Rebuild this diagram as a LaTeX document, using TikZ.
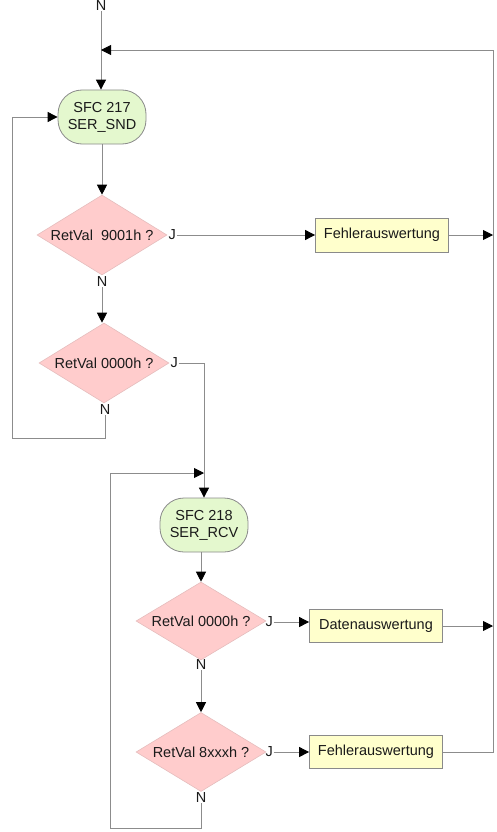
\documentclass[tikz,border=0pt]{standalone}
\usepackage{fontspec}
\setmainfont{Liberation Sans}
\usetikzlibrary{arrows.meta,shapes.geometric}
\definecolor{sfcgreen}{HTML}{E4F8CE}
\definecolor{diapink}{HTML}{FFCCCC}
\definecolor{boxyellow}{HTML}{FFFFCC}
\definecolor{linegray}{HTML}{8C8C8C}
\definecolor{bordergray}{HTML}{8A8A8A}
\definecolor{txt}{HTML}{1A1A1A}
\tikzset{
  every node/.style={font=\fontsize{14.5}{17}\selectfont, text=txt},
  sfc/.style={draw=bordergray, line width=0.8pt, fill=sfcgreen, rounded corners=24pt,
    minimum width=88pt, minimum height=54pt, align=center, inner sep=0pt},
  dia/.style={diamond, draw=diapink!80!gray, line width=0.6pt, fill=diapink, aspect=1.625,
    minimum width=130pt, minimum height=80pt, inner sep=0pt},
  ybox/.style={draw=bordergray, line width=0.8pt, fill=boxyellow,
    minimum width=133pt, minimum height=34pt, inner sep=0pt},
  lab/.style={inner sep=0.5pt},
  conn/.style={draw=linegray, line width=0.9pt},
  arr/.style={conn, -{Triangle[length=10pt,width=10pt,black]}},
}
\begin{document}
\begin{tikzpicture}[x=1pt,y=-1pt]
\useasboundingbox (0,0) rectangle (496,832);

% nodes
\node[lab, anchor=south] (ntop) at (101,11.5) {N};
\coordinate (jtop) at (101,50);
\coordinate (rtop) at (493,50);
\node[sfc] (s1) at (102,117) {SFC 217\\SER\_SND};
\node[dia, label={[text=txt]center:RetVal\ \ 9001h ?}] (d1) at (102,235) {};
\node[lab, anchor=west] (j1) at (168,235) {J};
\node[ybox] (f1) at (382,235) {Fehlerauswertung};
\node[lab, anchor=north] (n1) at (102,276) {N};
\node[dia, label={[text=txt]center:RetVal 0000h ?}] (d2) at (104,363) {};
\node[lab, anchor=west] (j2) at (170,363) {J};
\node[lab, anchor=north] (n2) at (105,404) {N};
\coordinate (c2) at (204,363);
\coordinate (k2) at (204,473);
\coordinate (lb1) at (12,438);
\coordinate (lt1) at (12,117);
\node[sfc] (s2) at (204,525) {SFC 218\\SER\_RCV};
\node[dia, minimum height=78pt, label={[text=txt]center:RetVal 0000h ?}] (d3) at (201,621) {};
\node[lab, anchor=west] (j3) at (265,622) {J};
\node[ybox, minimum height=33pt] (da) at (376,626) {Datenauswertung};
\node[lab, anchor=north] (n3) at (201,659) {N};
\node[dia, minimum height=79pt, label={[text=txt]center:RetVal 8xxxh ?}] (d4) at (201,752) {};
\node[lab, anchor=west] (j4) at (265,752) {J};
\node[ybox, minimum height=33pt] (f2) at (376,752) {Fehlerauswertung};
\node[lab, anchor=north] (n4) at (201,792) {N};
\coordinate (lb2) at (110,828);
\coordinate (lt2) at (110,473);
\coordinate (rbot) at (493,752);

% connectors
\draw[arr] (ntop.south) -- (s1.north -| ntop.south);
\draw[arr] (f2.east) -- (rbot) -- (rtop) -- (jtop);
\draw[arr] (f1.east) -- (f1.east -| rtop);
\draw[arr] (da.east) -- (da.east -| rtop);
\draw[arr] (s1.south) -- (d1.north);
\draw[arr] (j1.east) -- (j1.east -| f1.west);
\draw[arr] (n1.south) -- (n1.south |- d2.north);
\draw[conn] (j2.east) -- (c2) -- (k2);
\draw[arr] (k2) -- (s2.north -| k2);
\draw[arr] (n2.south) -- (n2.south |- lb1) -- (lb1) -- (lt1) -- (s1.west);
\draw[arr] (s2.south -| d3.north) -- (d3.north);
\draw[arr] (j3.east) -- (j3.east -| da.west);
\draw[arr] (n3.south) -- (d4.north);
\draw[arr] (j4.east) -- (j4.east -| f2.west);
\draw[arr] (n4.south) -- (n4.south |- lb2) -- (lb2) -- (lt2) -- (k2);
\end{tikzpicture}
\end{document}
